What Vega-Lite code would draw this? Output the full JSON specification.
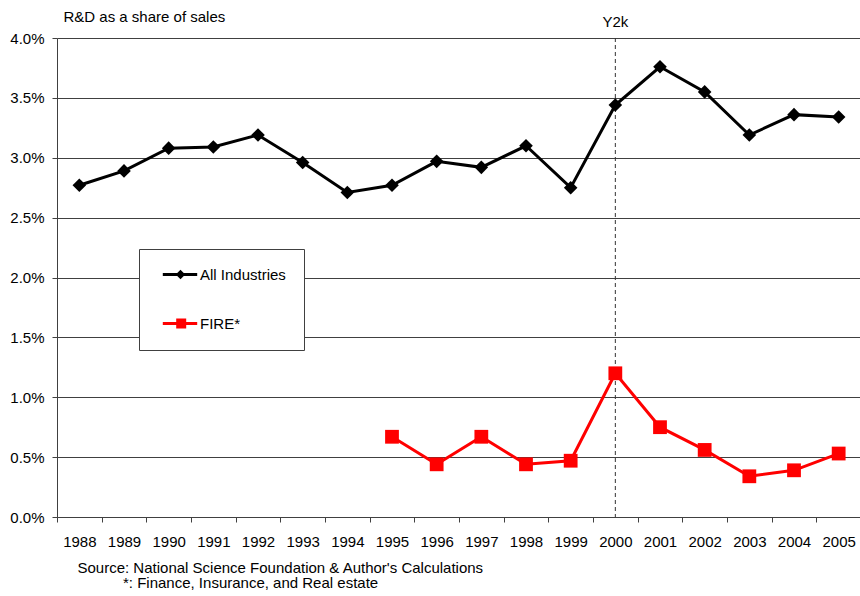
{
  "$schema": "https://vega.github.io/schema/vega-lite/v6.json",
  "width": 804,
  "height": 479,
  "autosize": {"type": "none"},
  "padding": {"left": 57, "top": 38, "right": 0, "bottom": 79},
  "background": "white",
  "title": {
    "text": "*: Finance, Insurance, and Real estate",
    "orient": "bottom", "anchor": "start", "frame": "group", "dx": 66, "offset": 1,
    "font": "Liberation Sans", "fontSize": 15, "fontWeight": "normal", "color": "#000", "baseline": "top"
  },
  "config": {
    "view": {"stroke": null},
    "font": "Liberation Sans",
    "axis": {"labelFont": "Liberation Sans", "labelFontSize": 15, "labelColor": "#000", "titleFont": "Liberation Sans", "titleFontSize": 15, "titleFontWeight": "normal", "titleColor": "#000", "domainColor": "#404040", "tickColor": "#404040", "tickSize": 5}
  },
  "datasets": {
    "main": [
      {"year": "1988", "series": "All Industries", "value": 0.0277},
      {"year": "1989", "series": "All Industries", "value": 0.0289},
      {"year": "1990", "series": "All Industries", "value": 0.0308},
      {"year": "1991", "series": "All Industries", "value": 0.0309},
      {"year": "1992", "series": "All Industries", "value": 0.0319},
      {"year": "1993", "series": "All Industries", "value": 0.0296},
      {"year": "1994", "series": "All Industries", "value": 0.0271},
      {"year": "1995", "series": "All Industries", "value": 0.0277},
      {"year": "1996", "series": "All Industries", "value": 0.0297},
      {"year": "1997", "series": "All Industries", "value": 0.0292},
      {"year": "1998", "series": "All Industries", "value": 0.0310},
      {"year": "1999", "series": "All Industries", "value": 0.0275},
      {"year": "2000", "series": "All Industries", "value": 0.0344},
      {"year": "2001", "series": "All Industries", "value": 0.0376},
      {"year": "2002", "series": "All Industries", "value": 0.0355},
      {"year": "2003", "series": "All Industries", "value": 0.0319},
      {"year": "2004", "series": "All Industries", "value": 0.0336},
      {"year": "2005", "series": "All Industries", "value": 0.0334},
      {"year": "1995", "series": "FIRE*", "value": 0.0067},
      {"year": "1996", "series": "FIRE*", "value": 0.0044},
      {"year": "1997", "series": "FIRE*", "value": 0.0067},
      {"year": "1998", "series": "FIRE*", "value": 0.0044},
      {"year": "1999", "series": "FIRE*", "value": 0.0047},
      {"year": "2000", "series": "FIRE*", "value": 0.0120},
      {"year": "2001", "series": "FIRE*", "value": 0.0075},
      {"year": "2002", "series": "FIRE*", "value": 0.0056},
      {"year": "2003", "series": "FIRE*", "value": 0.0034},
      {"year": "2004", "series": "FIRE*", "value": 0.0039},
      {"year": "2005", "series": "FIRE*", "value": 0.0053}
    ],
    "marker": [
      {"year": "2000", "label": "Y2k"}
    ]
  },
  "encoding": {
    "x": {
      "field": "year", "type": "ordinal",
      "scale": {"type": "band", "paddingInner": 0, "paddingOuter": 0},
      "axis": {
        "labelAngle": 0, "tickBand": "extent", "labelPadding": 12, "grid": false,
        "title": "Source: National Science Foundation & Author's Calculations",
        "titleAnchor": "start", "titleAlign": "left", "titleX": 20, "titleY": 55, "titleBaseline": "alphabetic"
      }
    }
  },
  "layer": [
    {
      "data": {"name": "main"},
      "transform": [{"filter": "datum.value < 0"}],
      "mark": {"type": "point", "filled": true, "opacity": 1, "strokeWidth": 0},
      "encoding": {
        "y": {
          "field": "value", "type": "quantitative",
          "scale": {"domain": [0, 0.04], "nice": false, "zero": true},
          "axis": {
            "values": [0, 0.005, 0.01, 0.015, 0.02, 0.025, 0.03, 0.035, 0.04],
            "format": ".1%", "labelPadding": 8, "grid": true,
            "gridColor": "#404040",
            "gridWidth": 1,
            "title": "R&D as a share of sales", "titleAngle": 0, "titleAlign": "left", "titleAnchor": "start",
            "titleX": 6, "titleY": -17, "titleBaseline": "alphabetic"
          }
        },
        "color": {
          "field": "series", "type": "nominal",
          "scale": {"domain": ["All Industries", "FIRE*"], "range": ["#000000", "#ff0000"]},
          "legend": {
            "orient": "none", "legendX": 82, "legendY": 211, "title": null,
            "padding": 18, "fillColor": "white", "strokeColor": "#404040",
            "symbolSize": 100, "labelOffset": 28, "rowPadding": 33,
            "symbolOpacity": 1, "symbolStrokeWidth": 0,
            "labelFont": "Liberation Sans", "labelFontSize": 15, "labelColor": "#000"
          }
        },
        "shape": {
          "field": "series", "type": "nominal",
          "scale": {"domain": ["All Industries", "FIRE*"], "range": ["M-0.34,-0.3H6.54V0.3H-0.34Z M3.2,-0.95L4.15,0L3.2,0.95L2.25,0Z", "M-0.34,-0.3H6.54V0.3H-0.34Z M2.34,-1H4.34V1H2.34Z"]},
          "legend": {
            "orient": "none", "legendX": 82, "legendY": 211, "title": null,
            "padding": 18, "fillColor": "white", "strokeColor": "#404040",
            "symbolSize": 100, "labelOffset": 28, "rowPadding": 33,
            "symbolOpacity": 1, "symbolStrokeWidth": 0,
            "labelFont": "Liberation Sans", "labelFontSize": 15, "labelColor": "#000"
          }
        }
      }
    },
    {
      "data": {"name": "marker"},
      "mark": {"type": "rule", "color": "#333", "strokeWidth": 1, "strokeDash": [4, 3]},
      "encoding": {}
    },
    {
      "data": {"name": "marker"},
      "mark": {"type": "text", "fontSize": 15, "font": "Liberation Sans", "color": "#000", "dy": -16, "baseline": "middle"},
      "encoding": {"y": {"datum": 0.04, "type": "quantitative"}, "text": {"field": "label"}}
    },
    {
      "data": {"name": "main"},
      "transform": [{"filter": "datum.series === 'All Industries'"}],
      "mark": {"type": "line", "strokeWidth": 3, "color": "#000000"},
      "encoding": {"y": {"field": "value", "type": "quantitative"}}
    },
    {
      "data": {"name": "main"},
      "transform": [{"filter": "datum.series === 'FIRE*'"}],
      "mark": {"type": "line", "strokeWidth": 3, "color": "#ff0000"},
      "encoding": {"y": {"field": "value", "type": "quantitative"}}
    },
    {
      "data": {"name": "main"},
      "transform": [{"filter": "datum.series === 'All Industries'"}],
      "mark": {"type": "point", "filled": true, "opacity": 1, "strokeWidth": 0, "shape": "diamond", "size": 185, "color": "#000000"},
      "encoding": {"y": {"field": "value", "type": "quantitative"}}
    },
    {
      "data": {"name": "main"},
      "transform": [{"filter": "datum.series === 'FIRE*'"}],
      "mark": {"type": "point", "filled": true, "opacity": 1, "strokeWidth": 0, "shape": "square", "size": 190, "color": "#ff0000"},
      "encoding": {"y": {"field": "value", "type": "quantitative"}}
    }
  ]
}
